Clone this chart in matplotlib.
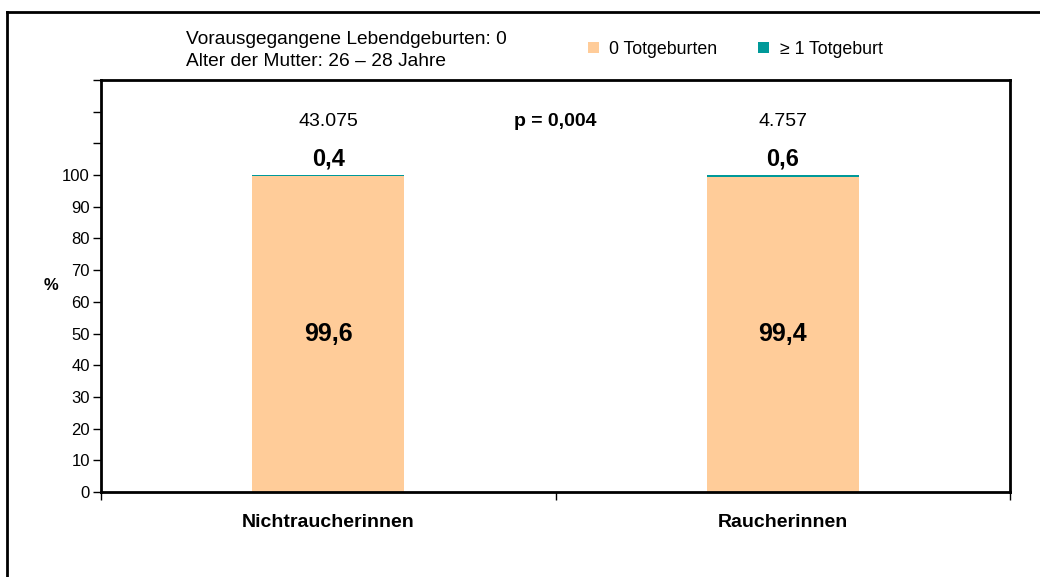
import matplotlib.pyplot as plt
from matplotlib.lines import Line2D
import numpy as np

plt.rcParams['font.family'] = ['Liberation Sans', 'DejaVu Sans']

# data
gruppen = ["Nichtraucherinnen", "Raucherinnen"]
keine_totgeburt = [99.6, 99.4]
totgeburt = [0.4, 0.6]
fallzahlen = ["43.075", "4.757"]
p_wert = "p = 0,004"
c_null = "#FFCC99"
c_eins = "#009999"

fig = plt.figure(figsize=(10.4, 5.77), dpi=100)
W, H = 1040, 577
ax = fig.add_axes([101 / W, 1 - 492 / H, (1010 - 101) / W, (492 - 80) / H])

x = np.arange(len(gruppen))
breite = 0.335
ax.bar(x, keine_totgeburt, breite, color=c_null, label="0 Totgeburten", zorder=2)
ax.bar(x, totgeburt, breite, bottom=keine_totgeburt, color=c_eins,
       label="≥ 1 Totgeburt", zorder=2)

ax.set_xlim(-0.5, 1.5)
ax.set_ylim(0, 130)
ax.set_yticks(np.arange(0, 131, 10))
ax.set_yticklabels([str(v) if v <= 100 else "" for v in range(0, 131, 10)])
ax.set_xticks([-0.5, 0.5, 1.5])
ax.set_xticklabels([])
ax.tick_params(axis='y', length=6, width=1, labelsize=12, pad=2)
ax.tick_params(axis='x', length=6, width=1, direction='out')
for s in ax.spines.values():
    s.set_linewidth(2)

for i in range(len(gruppen)):
    ax.text(x[i], 117, fallzahlen[i], ha='center', va='center', fontsize=14)
    ax.text(x[i], 105, f"{totgeburt[i]:.1f}".replace('.', ','), ha='center',
            va='center', fontsize=17, fontweight='bold')
    ax.text(x[i], 50, f"{keine_totgeburt[i]:.1f}".replace('.', ','), ha='center',
            va='center', fontsize=18, fontweight='bold')
    ax.text(x[i], -9.5, gruppen[i], ha='center', va='center', fontsize=14,
            fontweight='bold')
ax.text(0.5, 117, p_wert, ha='center', va='center', fontsize=14, fontweight='bold')

fig.text(51 / W, 1 - 285 / H, "%", ha='center', va='center', fontsize=12,
         fontweight='bold')
fig.text(186 / W, 1 - 39 / H, "Vorausgegangene Lebendgeburten: 0", ha='left',
         va='center', fontsize=13.8)
fig.text(186 / W, 1 - 62 / H, "Alter der Mutter: 26 – 28 Jahre", ha='left',
         va='center', fontsize=13.8)

fig.legend(loc='center left', bbox_to_anchor=(572 / W, 1 - 49 / H), ncol=2,
           frameon=False, fontsize=12.8, handlelength=0.6, handleheight=0.6,
           handletextpad=0.6, columnspacing=2.3)

# outer frame
fig.add_artist(Line2D([7 / W, 7 / W], [0, 1 - 12 / H], color='black', lw=2))
fig.add_artist(Line2D([7 / W, 1], [1 - 12 / H, 1 - 12 / H], color='black', lw=2))

fig.savefig("out.png", dpi=100)
